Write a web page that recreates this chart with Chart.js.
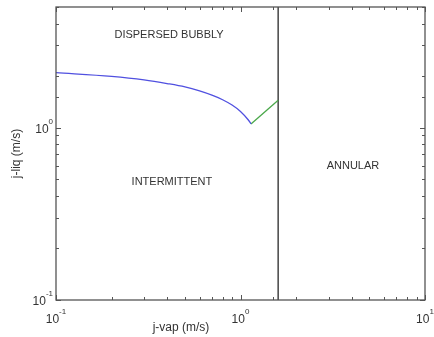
<!DOCTYPE html>
<html>
<head>
<meta charset="utf-8">
<script src="https://cdn.jsdelivr.net/npm/chart.js@4"></script>
<style>
  html, body { margin: 0; padding: 0; background: #fff; }
  #wrap { width: 434px; height: 337px; }
</style>
</head>
<body>
<div id="wrap"><canvas id="flowMap"></canvas></div>
<script>
// boundary curve (j-vap, j-liq in m/s)
const bubblyX = [0.1, 0.2, 0.3, 0.4, 0.5, 0.6, 0.7, 0.8, 0.9, 1.0, 1.1, 1.14];
const bubblyY = [2.08, 1.98, 1.89, 1.80, 1.72, 1.63, 1.54, 1.45, 1.35, 1.24, 1.11, 1.05];
const slugX = [1.14, 1.6];
const slugY = [1.05, 1.44];
const annularX = [1.6, 1.6];
const annularY = [0.1, 5];
const regionNames = ['DISPERSED BUBBLY', 'INTERMITTENT', 'ANNULAR'];
const regionX = [0.41, 0.425, 4.07];
const regionY = [3.43, 0.485, 0.60];

const FONT = "'Liberation Sans', Arial, sans-serif";

function toPoints(xs, ys) {
    return xs.map((v, i) => ({ x: v, y: ys[i] }));
}

function isDecade(v) {
    const l = Math.log10(v);
    return Math.abs(l - Math.round(l)) < 1e-6;
}

// "10" with a raised exponent, anchored by alignment
function powerLabel(ctx, v, px, baseline, align) {
    const e = String(Math.round(Math.log10(v)));
    ctx.font = '12px ' + FONT;
    const wb = ctx.measureText('10').width;
    ctx.font = '8px ' + FONT;
    const we = ctx.measureText(e).width;
    const total = wb + we;
    const x0 = align === 'right' ? px - total : px - total / 2;
    ctx.textAlign = 'left';
    ctx.textBaseline = 'alphabetic';
    ctx.font = '12px ' + FONT;
    ctx.fillText('10', x0, baseline);
    ctx.font = '8px ' + FONT;
    ctx.fillText(e, x0 + wb, baseline - 9);
}

const frame = {
    id: 'frame',
    afterDraw(chart) {
        const { ctx, chartArea: a, scales: { x, y } } = chart;
        ctx.save();
        ctx.strokeStyle = '#555';
        ctx.lineWidth = 1;
        ctx.beginPath();
        x.ticks.forEach(t => {
            const px = Math.round(x.getPixelForValue(t.value)) + 0.5;
            const len = isDecade(t.value) ? 5 : 3;
            ctx.moveTo(px, a.bottom); ctx.lineTo(px, a.bottom - len);
            ctx.moveTo(px, a.top); ctx.lineTo(px, a.top + len);
        });
        y.ticks.forEach(t => {
            const py = Math.round(y.getPixelForValue(t.value)) + 0.5;
            const len = isDecade(t.value) ? 5 : 3;
            ctx.moveTo(a.left, py); ctx.lineTo(a.left + len, py);
            ctx.moveTo(a.right, py); ctx.lineTo(a.right - len, py);
        });
        ctx.stroke();
        ctx.lineWidth = 1.3;
        ctx.strokeRect(a.left, a.top, a.width, a.height);

        ctx.fillStyle = '#333';
        x.ticks.filter(t => isDecade(t.value)).forEach(t => {
            powerLabel(ctx, t.value, x.getPixelForValue(t.value), a.bottom + 23, 'center');
        });
        y.ticks.filter(t => isDecade(t.value)).forEach(t => {
            powerLabel(ctx, t.value, a.left - 3, y.getPixelForValue(t.value) + 5, 'right');
        });

        ctx.font = '11px ' + FONT;
        ctx.textAlign = 'center';
        ctx.textBaseline = 'middle';
        regionNames.forEach((name, i) => {
            ctx.fillText(name, x.getPixelForValue(regionX[i]), y.getPixelForValue(regionY[i]));
        });

        ctx.font = '12px ' + FONT;
        ctx.fillText('j-vap (m/s)', 181, 328);
        ctx.restore();
    }
};

new Chart(document.getElementById('flowMap').getContext('2d'), {
    type: 'scatter',
    data: {
        datasets: [
            {
                data: toPoints(bubblyX, bubblyY),
                showLine: true,
                borderColor: '#5050e0',
                borderWidth: 1.3,
                pointRadius: 0,
                cubicInterpolationMode: 'monotone'
            },
            {
                data: toPoints(slugX, slugY),
                showLine: true,
                borderColor: '#4aa84a',
                borderWidth: 1.3,
                pointRadius: 0
            },
            {
                data: toPoints(annularX, annularY),
                showLine: true,
                borderColor: '#444',
                borderWidth: 1.5,
                pointRadius: 0
            }
        ]
    },
    options: {
        responsive: true,
        maintainAspectRatio: false,
        animation: false,
        layout: { padding: { top: 7, right: 9, left: 0, bottom: 0 } },
        plugins: {
            legend: { display: false },
            tooltip: { enabled: false }
        },
        scales: {
            x: {
                type: 'logarithmic',
                min: 0.1,
                max: 10,
                grid: { display: false },
                border: { display: false },
                ticks: { display: false, autoSkip: false },
                afterFit: s => { s.height = 37; s.paddingLeft = 0; s.paddingRight = 0; }
            },
            y: {
                type: 'logarithmic',
                min: 0.1,
                max: 5,
                grid: { display: false },
                border: { display: false },
                title: {
                    display: true,
                    text: 'j-liq (m/s)',
                    color: '#333',
                    font: { family: FONT, size: 12 },
                    padding: { top: 9, bottom: 0 }
                },
                ticks: { display: false, autoSkip: false },
                afterFit: s => { s.width = 56; s.paddingTop = 0; s.paddingBottom = 0; }
            }
        }
    },
    plugins: [frame]
});
</script>
</body>
</html>
